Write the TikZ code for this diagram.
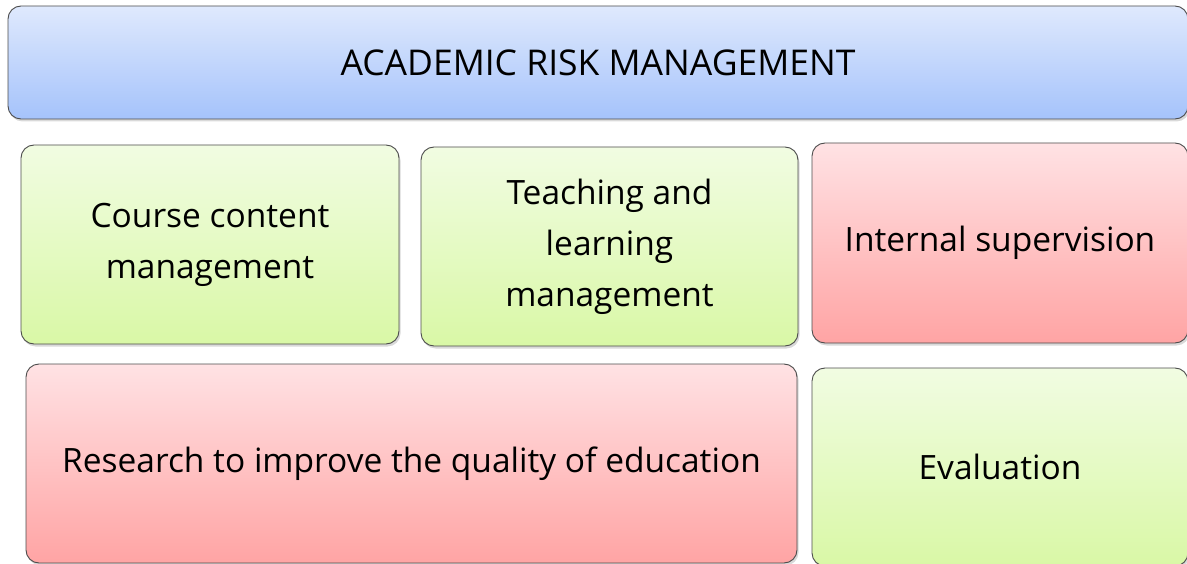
\documentclass[tikz,border=0pt]{standalone}
\usepackage{fontspec}
\setmainfont{Open Sans}
\usetikzlibrary{shadows}
\usepackage{xcolor}

\definecolor{bluetop}{HTML}{DFE9FD}
\definecolor{bluebot}{HTML}{A5C3FB}
\definecolor{greentop}{HTML}{F1FCE2}
\definecolor{greenbot}{HTML}{D9F8A6}
\definecolor{redtop}{HTML}{FFE2E4}
\definecolor{redbot}{HTML}{FFA4A4}

\tikzset{
  riskbox/.style={draw=black!70, line width=0.9pt, rounded corners=13pt,
    align=center, inner sep=0pt, font=\fontsize{33.5}{51}\selectfont,
    drop shadow={shadow xshift=1.5pt, shadow yshift=-2.5pt, opacity=0.3}},
  bluebox/.style={riskbox, top color=bluetop, bottom color=bluebot},
  greenbox/.style={riskbox, top color=greentop, bottom color=greenbot},
  redbox/.style={riskbox, top color=redtop, bottom color=redbot}
}

\begin{document}
\begin{tikzpicture}[x=1pt,y=-1pt]
\useasboundingbox (0,0) rectangle (1187,564);

% heading
\node[bluebox, minimum width=1180, minimum height=113, font=\fontsize{35.5}{50}\selectfont] (head) at (598,62.5) {ACADEMIC RISK MANAGEMENT};

% first row
\node[greenbox, minimum width=378, minimum height=199] (course) at (210,244.5) {Course content\\management};
\node[greenbox, minimum width=377, minimum height=199] (teach) at (609.5,246.5) {Teaching and\\learning\\management};
\node[redbox, minimum width=376, minimum height=200] (superv) at (1000,243) {Internal supervision};

% second row
\node[redbox, minimum width=771, minimum height=199] (research) at (411.5,463.5) {Research to improve the quality of education};
\node[greenbox, minimum width=376, minimum height=198] (eval) at (1000,467) {Evaluation};
\end{tikzpicture}
\end{document}
